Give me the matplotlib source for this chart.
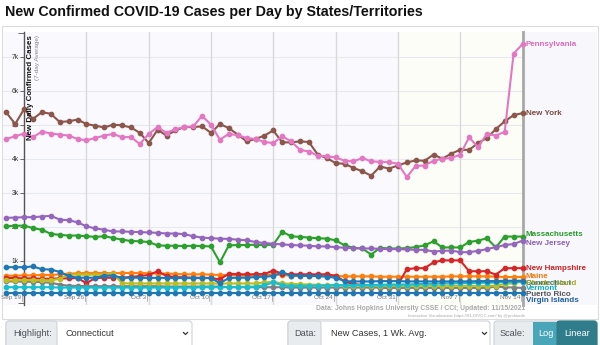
import numpy as np
import matplotlib
matplotlib.use('Agg')
import matplotlib.pyplot as plt
from matplotlib.patches import Rectangle, FancyBboxPatch
import matplotlib.transforms as mtransforms

plt.rcParams['font.family'] = ['Liberation Sans', 'DejaVu Sans']

# ---------------- data (thousands of cases/day, 7-day avg, Sep 17 .. Nov 14 2021) -------------
week_pos = [2, 9, 16, 23, 30, 37, 44, 51, 58]
week_labels = ['Sep 19', 'Sep 26', 'Oct 3', 'Oct 10', 'Oct 17', 'Oct 24', 'Oct 31', 'Nov 7', 'Nov 14']
ytick_vals = [1, 2, 3, 4, 5, 6, 7]
ytick_labels = ['1k', '2k', '3k', '4k', '5k', '6k', '7k']

connecticut = [0.81, 0.81, 0.81, 0.83, 0.75, 0.74, 0.67, 0.55, 0.50, 0.50, 0.50, 0.56, 0.56, 0.50, 0.50,
               0.50, 0.49, 0.50, 0.49, 0.49, 0.49, 0.49, 0.49, 0.49, 0.34, 0.49, 0.50, 0.50, 0.52, 0.53,
               0.55, 0.66, 0.56, 0.56, 0.55, 0.55, 0.53, 0.50, 0.40, 0.39, 0.39, 0.39, 0.40, 0.40, 0.40,
               0.39, 0.39, 0.39, 0.39, 0.39, 0.39, 0.39, 0.39, 0.40, 0.40, 0.40, 0.41, 0.41, 0.41]
maine = [0.56, 0.56, 0.57, 0.57, 0.58, 0.58, 0.60, 0.62, 0.63, 0.64, 0.64, 0.64, 0.63, 0.64, 0.64,
         0.64, 0.63, 0.62, 0.62, 0.61, 0.60, 0.60, 0.60, 0.59, 0.58, 0.57, 0.57, 0.56, 0.56, 0.58,
         0.60, 0.58, 0.56, 0.55, 0.55, 0.55, 0.55, 0.55, 0.54, 0.54, 0.54, 0.54, 0.53, 0.53, 0.53,
         0.53, 0.53, 0.53, 0.53, 0.53, 0.54, 0.54, 0.54, 0.54, 0.54, 0.53, 0.52, 0.52, 0.52]
massachusetts = [2.01, 2.03, 2.03, 1.96, 1.91, 1.79, 1.76, 1.74, 1.74, 1.72, 1.70, 1.72, 1.67, 1.62, 1.58,
                 1.57, 1.55, 1.45, 1.44, 1.44, 1.43, 1.44, 1.43, 1.42, 0.95, 1.45, 1.46, 1.46, 1.47, 1.46,
                 1.47, 1.85, 1.72, 1.70, 1.68, 1.66, 1.65, 1.60, 1.45, 1.38, 1.36, 1.18, 1.38, 1.36, 1.36,
                 1.37, 1.40, 1.45, 1.57, 1.39, 1.39, 1.39, 1.55, 1.59, 1.66, 1.39, 1.71, 1.71, 1.71]
new_hampshire = [0.49, 0.49, 0.48, 0.48, 0.47, 0.47, 0.48, 0.48, 0.49, 0.34, 0.49, 0.50, 0.50, 0.50, 0.52,
                 0.55, 0.58, 0.69, 0.55, 0.52, 0.51, 0.50, 0.50, 0.49, 0.45, 0.62, 0.60, 0.60, 0.60, 0.61,
                 0.71, 0.62, 0.60, 0.60, 0.60, 0.60, 0.60, 0.56, 0.39, 0.31, 0.29, 0.24, 0.22, 0.20, 0.29,
                 0.75, 0.78, 0.78, 0.95, 1.01, 1.01, 1.01, 0.69, 0.69, 0.69, 0.59, 0.78, 0.78, 0.78]
new_jersey = [2.26, 2.27, 2.28, 2.28, 2.30, 2.32, 2.21, 2.19, 2.13, 2.01, 1.95, 1.91, 1.86, 1.86, 1.85,
              1.84, 1.83, 1.82, 1.80, 1.80, 1.78, 1.72, 1.68, 1.66, 1.65, 1.64, 1.62, 1.60, 1.55, 1.52,
              1.50, 1.48, 1.46, 1.45, 1.44, 1.42, 1.42, 1.40, 1.38, 1.37, 1.36, 1.36, 1.35, 1.34, 1.34,
              1.33, 1.32, 1.32, 1.27, 1.29, 1.30, 1.25, 1.25, 1.29, 1.34, 1.40, 1.46, 1.49, 1.59]
new_york = [5.36, 5.02, 5.46, 5.17, 5.37, 5.32, 5.08, 5.10, 5.15, 5.02, 4.97, 4.92, 5.00, 4.98, 4.92,
            4.76, 4.46, 4.85, 4.68, 4.83, 4.93, 4.93, 4.95, 4.76, 5.02, 4.90, 4.71, 4.51, 4.58, 4.68,
            4.83, 4.48, 4.48, 4.51, 4.49, 4.12, 4.02, 3.87, 3.85, 3.73, 3.63, 3.50, 3.77, 3.71, 3.80,
            3.89, 3.95, 3.94, 4.12, 4.00, 4.15, 4.26, 4.26, 4.46, 4.61, 4.87, 5.10, 5.28, 5.34]
pennsylvania = [4.58, 4.66, 4.74, 4.63, 4.80, 4.74, 4.71, 4.68, 4.58, 4.54, 4.61, 4.68, 4.73, 4.63, 4.64,
                4.43, 4.73, 4.93, 4.76, 4.87, 4.93, 4.95, 5.26, 5.00, 4.56, 4.73, 4.69, 4.61, 4.58, 4.49,
                4.46, 4.66, 4.51, 4.26, 4.21, 4.09, 4.07, 4.04, 3.94, 3.92, 4.02, 3.92, 3.91, 3.90, 3.85,
                3.46, 3.79, 3.80, 3.94, 4.00, 4.02, 4.12, 4.63, 4.34, 4.73, 4.68, 4.79, 7.09, 7.37]
puerto_rico = [0.39, 0.39, 0.38, 0.38, 0.37, 0.35, 0.30, 0.26, 0.26, 0.25, 0.25, 0.25, 0.25, 0.25, 0.25,
               0.25, 0.25, 0.25, 0.24, 0.24, 0.24, 0.24, 0.24, 0.24, 0.24, 0.22, 0.22, 0.22, 0.22, 0.22,
               0.22, 0.22, 0.21, 0.21, 0.21, 0.21, 0.21, 0.21, 0.21, 0.21, 0.21, 0.21, 0.21, 0.20, 0.20,
               0.20, 0.20, 0.20, 0.20, 0.20, 0.20, 0.20, 0.20, 0.20, 0.20, 0.24, 0.22, 0.21, 0.20]
rhode_island = [0.42, 0.42, 0.43, 0.43, 0.42, 0.42, 0.47, 0.59, 0.59, 0.59, 0.59, 0.59, 0.62, 0.34, 0.33,
                0.33, 0.33, 0.33, 0.33, 0.33, 0.33, 0.33, 0.33, 0.33, 0.33, 0.33, 0.33, 0.33, 0.33, 0.36,
                0.38, 0.33, 0.32, 0.31, 0.30, 0.29, 0.28, 0.28, 0.27, 0.27, 0.26, 0.26, 0.26, 0.26, 0.26,
                0.26, 0.26, 0.26, 0.26, 0.26, 0.26, 0.26, 0.26, 0.26, 0.25, 0.27, 0.31, 0.34, 0.38]
vermont = [0.22, 0.22, 0.22, 0.22, 0.22, 0.22, 0.21, 0.21, 0.21, 0.21, 0.21, 0.21, 0.21, 0.21, 0.21,
           0.21, 0.21, 0.21, 0.21, 0.21, 0.21, 0.21, 0.22, 0.22, 0.22, 0.22, 0.23, 0.23, 0.24, 0.28,
           0.36, 0.28, 0.26, 0.26, 0.26, 0.27, 0.27, 0.28, 0.28, 0.28, 0.29, 0.29, 0.29, 0.30, 0.30,
           0.30, 0.31, 0.32, 0.32, 0.33, 0.33, 0.34, 0.34, 0.35, 0.35, 0.36, 0.37, 0.37, 0.38]
virgin_islands = [0.05] * 59

series_names = ['Connecticut', 'Maine', 'Massachusetts', 'New Hampshire', 'New Jersey', 'New York',
                'Pennsylvania', 'Puerto Rico', 'Rhode Island', 'Vermont', 'Virgin Islands']
series_values = [connecticut, maine, massachusetts, new_hampshire, new_jersey, new_york,
                 pennsylvania, puerto_rico, rhode_island, vermont, virgin_islands]
series_colors = ['#1f77b4', '#ff7f0e', '#2ca02c', '#d62728', '#9467bd', '#8c564b',
                 '#e377c2', '#7f7f7f', '#bcbd22', '#17becf', '#1f77b4']
label_colors = ['#1f6fa8', '#f07a10', '#2b9a2b', '#c82525', '#8a5fb5', '#7a4a40',
                '#d96cb8', '#555555', '#a8a820', '#17aabb', '#1f5fa0']
label_y = [0.34, 0.54, 1.76, 0.78, 1.52, 5.34, 7.37, 0.01, 0.34, 0.18, -0.16]

# ---------------- layout helpers ----------------
W, H = 600, 345
fig = plt.figure(figsize=(6, 3.45), dpi=100)
fig.patch.set_facecolor('white')


def px_to_i(x):
    return (x - 6.3) / 8.9


def py_to_v(y):
    return (294.7 - y) / 34.0


L, R, T, B = 3, 523, 32, 305
# background overlay in pixel coordinates
bg = fig.add_axes([0, 0, 1, 1], zorder=0)
bg.set_xlim(0, W)
bg.set_ylim(H, 0)
bg.axis('off')

# outer chart border
bg.add_patch(Rectangle((2, 26), 596, 293, fill=False, ec='#dcdcdc', lw=0.8))
# right label area background
bg.add_patch(Rectangle((R, T), 597 - R, B - T, fc='#f7f7fc', ec='none'))

ax = fig.add_axes([L / W, 1 - B / H, (R - L) / W, (B - T) / H], zorder=1)
ax.set_facecolor('#fafafe')
ax.set_xlim(px_to_i(L), px_to_i(R))
ax.set_ylim(py_to_v(B), py_to_v(T))
ax.axvspan(44, px_to_i(R), color='#fdfdf8', zorder=0, lw=0)

# grid
for yv in ytick_vals:
    ax.axhline(yv, color='#e8e8ef', lw=0.8, zorder=0.5)
for xp in week_pos[1:]:
    ax.axvline(xp, color='#d9d9d9', lw=1.0, zorder=0.5)

for s in ['top', 'bottom']:
    ax.spines[s].set_visible(False)
ax.spines['right'].set_color('#a8a8a8')
ax.spines['right'].set_linewidth(2.0)
ax.spines['left'].set_position(('data', week_pos[0]))
ax.spines['left'].set_color('#555555')
ax.spines['left'].set_linewidth(1.0)

ax.set_yticks(ytick_vals)
ax.set_yticklabels(ytick_labels)
ax.tick_params(axis='y', direction='out', length=3, width=0.6, color='#555555',
               labelsize=4.8, labelcolor='#333333', pad=1)
ax.set_yticks([py_to_v(B) + 0.05, py_to_v(T) - 0.02], minor=True)
ax.tick_params(axis='y', which='minor', length=4, width=0.6, color='#555555')
ax.set_xticks([])

# x tick labels (inside plot, left of the gridline)
xlab_tr = ax.get_xaxis_transform() + mtransforms.ScaledTranslation(-2.5 / 100, 0, fig.dpi_scale_trans)
for xp, lab in zip(week_pos, week_labels):
    ax.text(xp, 1 - (297.5 - T) / (B - T), lab, transform=xlab_tr, ha='right', va='center',
            fontsize=4.6, color='#7a7a7a', zorder=7)
    ax.plot([xp - 0.18, xp - 0.18], [py_to_v(300.5), py_to_v(294)], color='#999999', lw=0.5,
            clip_on=False, zorder=3)

# series
days = np.arange(len(new_york))
order = [1, 2, 3, 4, 5, 6, 7, 8, 9, 10, 0]
for k in order:
    ax.plot(days, series_values[k], '-o', color=series_colors[k], lw=1.5, ms=3.1,
            mec=series_colors[k], zorder=3 + (1 if k == 0 else 0), clip_on=False)

# end labels
lab_tr = ax.transData + mtransforms.ScaledTranslation(3.5 / 100, 0, fig.dpi_scale_trans)
for name, ly, lc in zip(series_names, label_y, label_colors):
    ax.text(days[-1], ly, name, transform=lab_tr, ha='left', va='center', fontsize=5.8,
            fontweight='bold', color=lc, clip_on=False, zorder=6)

# y label (figure text so it is drawn above the plot area)
fig.text(31 / W, 1 - 35 / H, 'New Daily Confirmed Cases', rotation=90, ha='center', va='top',
         fontsize=5.7, fontweight='bold', color='#111111', zorder=10)
fig.text(37.5 / W, 1 - 35 / H, '(7-day Average)', rotation=90, ha='center', va='top',
         fontsize=4.6, color='#888888', zorder=10)

# title
fig.text(5 / W, 1 - 12 / H, 'New Confirmed COVID-19 Cases per Day by States/Territories',
         ha='left', va='center', fontsize=10.3, fontweight='bold', color='#111111')

# source text
bg.text(525, 309, 'Data: Johns Hopkins University CSSE / CCI; Updated: 11/15/2021', ha='right',
        va='center', fontsize=4.9, fontweight='bold', color='#a8a8a8')
bg.text(525, 316.5, 'Interactive Visualization: https://91-DIVOC.com/ by @profwade', ha='right',
        va='center', fontsize=3.1, color='#a8a8a8')


# ---------------- control panel ----------------
def box(x0, x1, y0, y1, fc, ec='#cfd4da', rs=3):
    bg.add_patch(FancyBboxPatch((x0, y0), x1 - x0, y1 - y0,
                                boxstyle=f'round,pad=0,rounding_size={rs}',
                                fc=fc, ec=ec, lw=0.8, mutation_aspect=1))


cy0, cy1 = 321, 350
tcy = 333.5
box(6, 192, cy0, cy1, 'white')
box(6, 57, cy0, cy1, '#e9ecef')
bg.text(13, tcy, 'Highlight:', ha='left', va='center', fontsize=6.6, color='#495057')
bg.text(65, tcy, 'Connecticut', ha='left', va='center', fontsize=6.6, color='#333333')
bg.plot([183.5, 185.5, 187.5], [tcy - 1, tcy + 1, tcy - 1], color='#333333', lw=0.9)

box(288, 490, cy0, cy1, 'white')
box(288, 321, cy0, cy1, '#e9ecef')
bg.text(294, tcy, 'Data:', ha='left', va='center', fontsize=6.6, color='#495057')
bg.text(331, tcy, 'New Cases, 1 Wk. Avg.', ha='left', va='center', fontsize=6.6, color='#333333')
bg.plot([482.5, 484.5, 486.5], [tcy - 1, tcy + 1, tcy - 1], color='#333333', lw=0.9)

box(494, 597, cy0, cy1, '#e9ecef')
bg.text(500, tcy, 'Scale:', ha='left', va='center', fontsize=6.6, color='#495057')
bg.add_patch(Rectangle((533, cy0 + 0.5), 25, cy1 - cy0, fc='#48a6b8', ec='none'))
box(557, 597, cy0, cy1, '#2f7d8a', ec='#2f7d8a')
bg.add_patch(Rectangle((557, cy0 + 0.4), 5, cy1 - cy0, fc='#2f7d8a', ec='none'))
bg.text(545.5, tcy, 'Log', ha='center', va='center', fontsize=6.6, color='white')
bg.text(577, tcy, 'Linear', ha='center', va='center', fontsize=6.6, color='white')

fig.savefig('out.png', dpi=100, facecolor='white')
